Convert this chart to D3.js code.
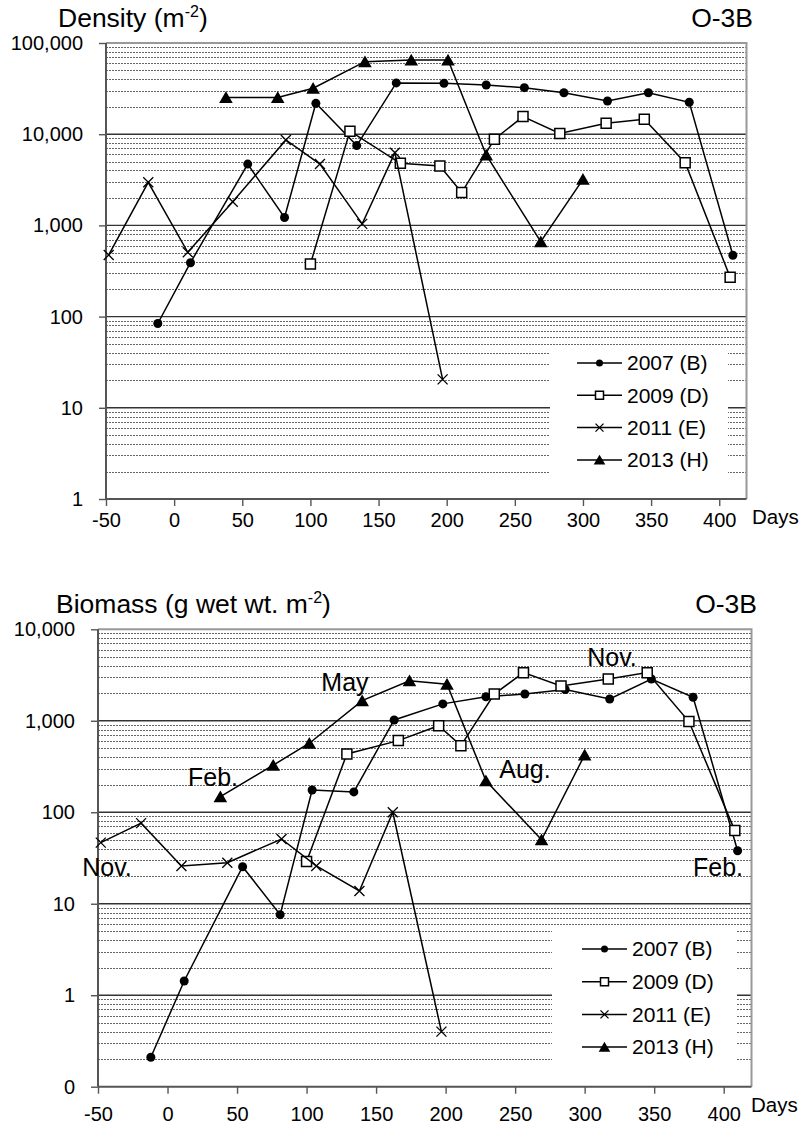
<!DOCTYPE html>
<html>
<head>
<meta charset="utf-8">
<script src="https://cdn.jsdelivr.net/npm/d3@7"></script>
<style>
  body { margin: 0; background: #fff; }
  svg text { font-family: "Liberation Sans", Arial, sans-serif; fill: #000; }
</style>
</head>
<body>
<svg id="chart" width="801" height="1126"></svg>
<script>
// sampling days (days from start) for each survey year
const days2007 = [-12, 12, 54, 81, 104, 134, 163, 198, 229, 257, 286, 318, 348, 378, 410];
const days2009 = [100, 129, 166, 195, 211, 235, 256, 283, 317, 345, 375, 408];
const days2011 = [-48, -19, 10, 43, 82, 107, 138, 162, 197];
const days2013 = [38, 76, 102, 140, 174, 201, 229, 269, 300];

// density (m-2)
const dens2007 = [84, 390, 4700, 1220, 21800, 7500, 36500, 36100, 34600, 32400, 28500, 23100, 28500, 22400, 470];
const dens2009 = [377, 10800, 4800, 4480, 2290, 8800, 15600, 10200, 13200, 14600, 4870, 270];
const dens2011 = [474, 2970, 507, 1820, 8640, 4710, 1040, 6270, 20.5];
const dens2013 = [25300, 25300, 31900, 62400, 65100, 65100, 5920, 663, 3200];

// biomass (g wet wt. m-2)
const bio2007 = [0.21, 1.43, 25.4, 7.6, 175, 167, 1020, 1530, 1830, 1960, 2200, 1730, 2860, 1810, 38];
const bio2009 = [29, 434, 607, 884, 535, 1960, 3360, 2400, 2860, 3360, 980, 63];
const bio2011 = [46.6, 76, 25.9, 28.1, 51, 25.9, 13.8, 100, 0.4];
const bio2013 = [148, 327, 568, 1660, 2740, 2510, 221, 50, 423];

const seriesNames = ["2007 (B)", "2009 (D)", "2011 (E)", "2013 (H)"];
const seriesMarkers = ["circle", "square", "cross", "triangle"];

const xTicks = [-50, 0, 50, 100, 150, 200, 250, 300, 350, 400];
const densTicks = [1, 10, 100, 1000, 10000, 100000];
const densTickLabels = ["1", "10", "100", "1,000", "10,000", "100,000"];
const bioTicks = [0.1, 1, 10, 100, 1000, 10000];
const bioTickLabels = ["0", "1", "10", "100", "1,000", "10,000"];

// month notes on the biomass panel
const noteLabels = ["May", "Feb.", "Nov.", "Aug.", "Nov.", "Feb."];
const noteDays = [127.6, 32.7, -43.5, 257.1, 319.7, 395.9];
const noteVals = [2655, 243, 25.2, 297, 4980, 25.2];

const svg = d3.select("#chart");

function markerPath(type, s) {
  if (type === "square") {
    return `M${-s / 2},${-s / 2}h${s}v${s}h${-s}Z`;
  }
  if (type === "triangle") {
    const h = s * 0.95;
    return `M0,${-h / 2}L${s / 2 + 0.5},${h / 2}L${-s / 2 - 0.5},${h / 2}Z`;
  }
  if (type === "cross") {
    const r = s / 2;
    return `M${-r},${-r}L${r},${r}M${r},${-r}L${-r},${r}`;
  }
  return null;
}

function drawMarker(g, type, x, y, s) {
  if (type === "circle") {
    g.append("circle")
      .attr("cx", x).attr("cy", y).attr("r", s / 2)
      .attr("fill", "#000");
    return;
  }
  g.append("path")
    .attr("transform", `translate(${x},${y})`)
    .attr("d", markerPath(type, s))
    .attr("fill", type === "square" ? "#fff" : type === "triangle" ? "#000" : "none")
    .attr("stroke", "#000")
    .attr("stroke-width", type === "cross" ? 1.3 : 1.5);
}

function drawPanel(p) {
  const g = svg.append("g");

  const x = d3.scaleLinear().domain([-50, 420]).range([p.left, p.right]);
  const y = d3.scaleLog().domain([p.yTicks[0], p.yTicks[p.yTicks.length - 1]]).range([p.bottom, p.top]);

  // minor gridlines (2..9 of each decade)
  const minor = [];
  for (let i = 0; i < p.yTicks.length - 1; i++) {
    for (let k = 2; k <= 9; k++) minor.push(p.yTicks[i] * k);
  }
  g.append("g").selectAll("line")
    .data(minor)
    .join("line")
    .attr("x1", p.left).attr("x2", p.right)
    .attr("y1", d => Math.round(y(d)) + 0.5).attr("y2", d => Math.round(y(d)) + 0.5)
    .attr("stroke", "#666")
    .attr("stroke-width", 1)
    .attr("stroke-dasharray", "2,1");

  // major gridlines
  g.append("g").selectAll("line")
    .data(p.yTicks.slice(1, -1))
    .join("line")
    .attr("x1", p.left).attr("x2", p.right)
    .attr("y1", d => y(d)).attr("y2", d => y(d))
    .attr("stroke", "#333")
    .attr("stroke-width", 1.4);

  // frame: top and right in grey
  g.append("path")
    .attr("d", `M${p.left},${p.top}H${p.right}V${p.bottom}`)
    .attr("fill", "none")
    .attr("stroke", "#999")
    .attr("stroke-width", 2);

  // axes
  const yAxis = d3.axisLeft(y)
    .tickValues(p.yTicks)
    .tickFormat((d, i) => p.yLabels[i])
    .tickSize(7)
    .tickPadding(p.yPad);
  const yG = g.append("g")
    .attr("transform", `translate(${p.left},0)`)
    .call(yAxis);

  const xAxis = d3.axisBottom(x)
    .tickValues(xTicks)
    .tickFormat(d => String(d))
    .tickSize(7)
    .tickPadding(p.xPad);
  const xG = g.append("g")
    .attr("transform", `translate(0,${p.bottom})`)
    .call(xAxis);

  [xG, yG].forEach(a => {
    a.select(".domain").attr("stroke", "#555").attr("stroke-width", 2);
    a.selectAll(".tick line").attr("stroke", "#555").attr("stroke-width", 1.4);
    a.selectAll(".tick text")
      .attr("font-size", 20)
      .attr("font-family", "Liberation Sans, Arial, sans-serif")
      .attr("fill", "#000");
  });
  // keep the domain lines flat (no outer ticks)
  xG.select(".domain").attr("d", `M${p.left},0H${p.right}`);
  yG.select(".domain").attr("d", `M0,${p.top}V${p.bottom}`);

  g.append("text")
    .attr("x", p.daysX)
    .attr("y", p.bottom + 25)
    .attr("font-size", 20.5)
    .text("Days");

  // titles
  const t = g.append("text")
    .attr("x", p.titleX)
    .attr("y", p.titleY)
    .attr("font-size", 26.5);
  t.append("tspan").text(p.title);
  t.append("tspan").attr("font-size", 16).attr("dy", -10).text("-2");
  t.append("tspan").attr("dy", 10).text(")");

  g.append("text")
    .attr("x", p.siteX)
    .attr("y", p.titleY)
    .attr("text-anchor", "end")
    .attr("font-size", 26.5)
    .text("O-3B");

  // series lines + markers
  const line = d3.line()
    .x(d => x(d[0]))
    .y(d => y(d[1]));

  p.series.forEach((s, i) => {
    const pts = s.days.map((d, j) => [d, s.vals[j]]);
    g.append("path")
      .datum(pts)
      .attr("fill", "none")
      .attr("stroke", "#000")
      .attr("stroke-width", 1.5)
      .attr("d", line);
    const mg = g.append("g");
    pts.forEach(pt => drawMarker(mg, seriesMarkers[i], x(pt[0]), y(pt[1]), seriesMarkers[i] === "circle" ? 9 : 10));
  });

  // notes
  if (p.notes) {
    g.append("g").selectAll("text")
      .data(p.notes)
      .join("text")
      .attr("x", d => x(d.day))
      .attr("y", d => y(d.val))
      .attr("dy", "0.35em")
      .attr("text-anchor", "middle")
      .attr("font-size", 25)
      .text(d => d.label);
  }

  // legend
  const L = p.legend;
  const lg = g.append("g");
  lg.append("rect")
    .attr("x", L.x0).attr("y", L.y0)
    .attr("width", L.x1 - L.x0).attr("height", L.y1 - L.y0)
    .attr("fill", "#fff");
  seriesNames.forEach((name, i) => {
    const ly = L.y0 + L.first + i * L.step;
    lg.append("line")
      .attr("x1", L.lineX).attr("x2", L.lineX + 45)
      .attr("y1", ly).attr("y2", ly)
      .attr("stroke", "#000").attr("stroke-width", 1.5);
    drawMarker(lg, seriesMarkers[i], L.lineX + 22.5, ly, seriesMarkers[i] === "circle" ? 7 : 8);
    lg.append("text")
      .attr("x", L.lineX + 50)
      .attr("y", ly)
      .attr("dy", "0.35em")
      .attr("font-size", 21)
      .text(name);
  });
}

drawPanel({
  left: 106, right: 746.5, top: 43, bottom: 499,
  yTicks: densTicks, yLabels: densTickLabels,
  yPad: 16, xPad: 7,
  title: "Density (m", titleX: 58, titleY: 27,
  siteX: 753, daysX: 752,
  series: [
    { days: days2007, vals: dens2007 },
    { days: days2009, vals: dens2009 },
    { days: days2011, vals: dens2011 },
    { days: days2013, vals: dens2013 }
  ],
  legend: { x0: 550, x1: 728, y0: 348, y1: 480, first: 15, step: 32.3, lineX: 577 }
});

drawPanel({
  left: 98, right: 751.5, top: 629.3, bottom: 1086.7,
  yTicks: bioTicks, yLabels: bioTickLabels,
  yPad: 16, xPad: 13,
  title: "Biomass (g wet wt. m", titleX: 56, titleY: 613,
  siteX: 757, daysX: 751,
  series: [
    { days: days2007, vals: bio2007 },
    { days: days2009, vals: bio2009 },
    { days: days2011, vals: bio2011 },
    { days: days2013, vals: bio2013 }
  ],
  notes: noteLabels.map((label, i) => ({ label, day: noteDays[i], val: noteVals[i] })),
  legend: { x0: 552, x1: 737, y0: 925, y1: 1062, first: 24, step: 32.7, lineX: 582 }
});
</script>
</body>
</html>
